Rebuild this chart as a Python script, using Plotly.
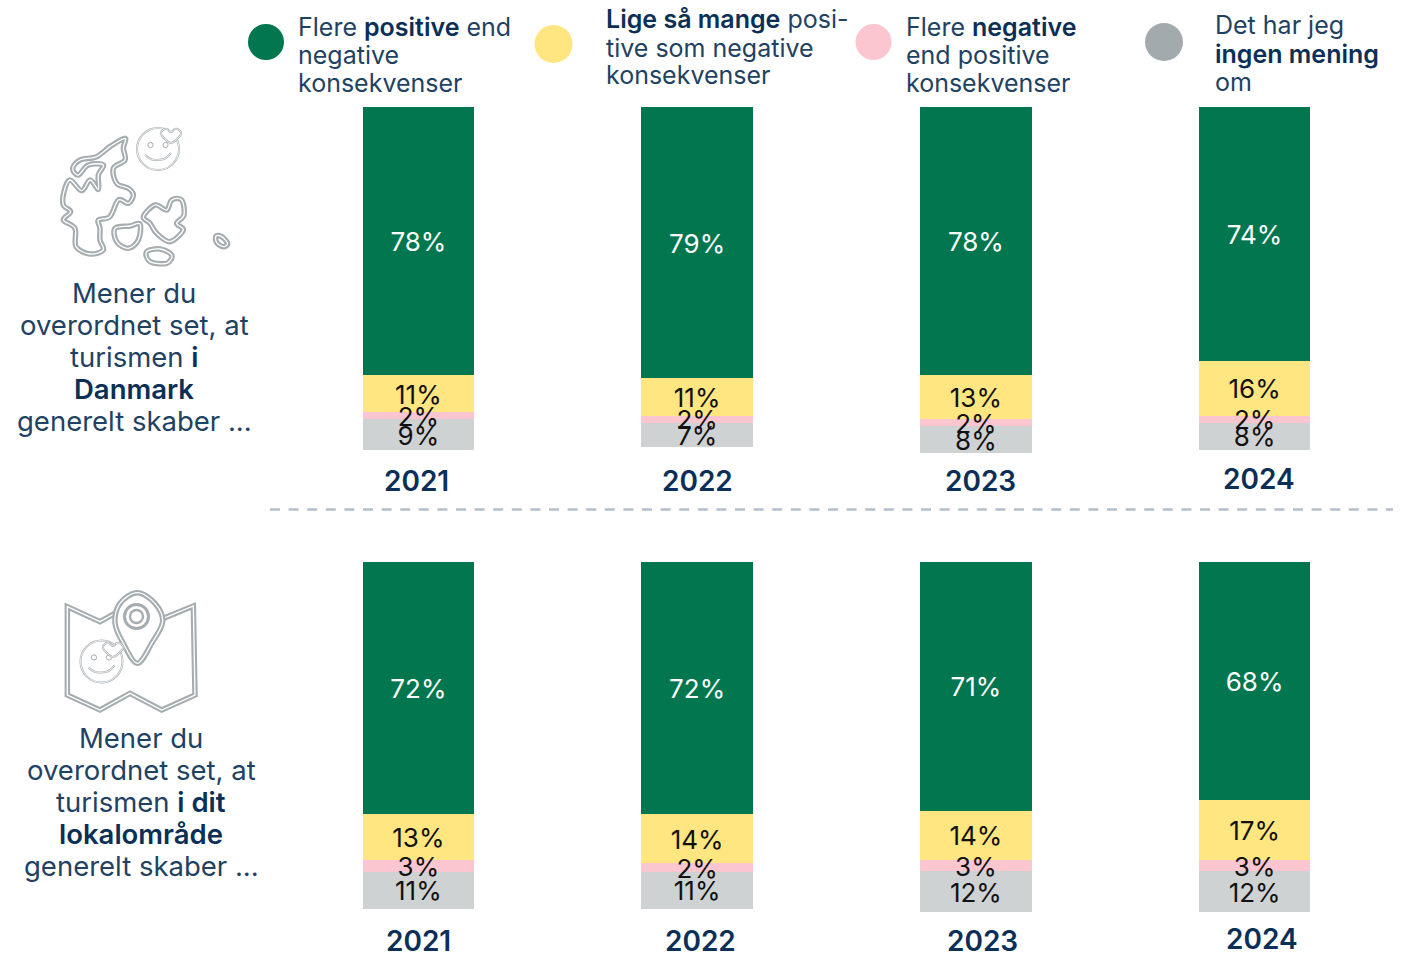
import plotly.graph_objects as go

W, H = 1412, 953
FONT = "Inter"
NAVY = "#0B2F57"
TEXT = "#1F4263"

years = ["2021", "2022", "2023", "2024"]
series_names = ["Flere positive end negative konsekvenser",
                "Lige så mange positive som negative konsekvenser",
                "Flere negative end positive konsekvenser",
                "Det har jeg ingen mening om"]
colors = ["#01764F", "#FFE680", "#FBC6D0", "#CFD2D3"]
legend_colors = ["#01764F", "#FFE680", "#FBC6D0", "#A3AAAE"]
text_colors = ["#FFFFFF", "#111111", "#111111", "#111111"]

dk_positive = [78, 79, 78, 74]
dk_equal = [11, 11, 13, 16]
dk_negative = [2, 2, 2, 2]
dk_none = [9, 7, 8, 8]

local_positive = [72, 72, 71, 68]
local_equal = [13.1, 14, 14, 17]
local_negative = [3.4, 2.5, 3.4, 3.4]
local_none = [10.6, 10.6, 11.7, 11.7]

dk_labels = [["78%", "79%", "78%", "74%"], ["11%", "11%", "13%", "16%"],
             ["2%", "2%", "2%", "2%"], ["9%", "7%", "8%", "8%"]]
local_labels = [["72%", "72%", "71%", "68%"], ["13%", "14%", "14%", "17%"],
                ["3%", "2%", "3%", "3%"], ["11%", "11%", "12%", "12%"]]


def px(x):
    return x / W


def py(y):
    return 1 - y / H


fig = go.Figure()
LABEL_DROP = 1.05  # in axis units: the labels sit a little under each segment's middle
groups = [([dk_positive, dk_equal, dk_negative, dk_none], dk_labels, "x", "y"),
          ([local_positive, local_equal, local_negative, local_none], local_labels, "x2", "y2")]
for vals, labs, xa, ya in groups:
    for i in range(4):
        fig.add_trace(go.Bar(
            x=years, y=vals[i], name=series_names[i], xaxis=xa, yaxis=ya,
            marker=dict(color=colors[i], line=dict(width=0)),
            hoverinfo="skip", showlegend=False))
    # value labels sit above every bar segment, so that they overlap as in the reference
    base = [0, 0, 0, 0]
    for i in range(4):
        mids = [b + v / 2 + LABEL_DROP for b, v in zip(base, vals[i])]
        base = [b + v for b, v in zip(base, vals[i])]
        fig.add_trace(go.Scatter(
            x=years, y=mids, mode="text", text=labs[i], textposition="middle center",
            xaxis=xa, yaxis=ya, cliponaxis=False, hoverinfo="skip", showlegend=False,
            textfont=dict(family=FONT, size=26, color=text_colors[i])))

ann = []


def T(x, y, s, size=25, color=TEXT, anchor="left", weight=None):
    font = dict(family=FONT, size=size, color=color)
    if weight:
        font["weight"] = weight
    ann.append(dict(xref="paper", yref="paper", x=px(x), y=py(y), text=s, showarrow=False,
                    xanchor=anchor, yanchor="middle", align=anchor, font=font))


def B(s):
    return f'<span style="font-weight:600;color:{NAVY}">{s}</span>'


legend_lines = [
    (296, [(27, "Flere " + B("positive") + " end"), (55, "negative"), (83, "konsekvenser")]),
    (604, [(19, B("Lige så mange") + " posi-"), (48, "tive som negative"), (75, "konsekvenser")]),
    (904, [(27, "Flere " + B("negative")), (55, "end positive"), (83, "konsekvenser")]),
    (1213, [(25, "Det har jeg"), (54, B("ingen mening")), (82, "om")]),
]
for x, lines in legend_lines:
    for y, s in lines:
        T(x, y, s, size=25)

q1 = [(293, "Mener du"), (325, "overordnet set, at"), (357, "turismen " + B("i")),
      (389, B("Danmark")), (421, "generelt skaber ...")]
q2 = [(738, "Mener du"), (770, "overordnet set, at"), (802, "turismen " + B("i dit")),
      (834, B("lokalområde")), (866, "generelt skaber ...")]
for y, s in q1:
    T(134, y, s, size=27.5, anchor="center")
for y, s in q2:
    T(141, y, s, size=27.5, anchor="center")

year_pos = [(416, 481), (697, 481), (980, 481), (1259, 479),
            (418, 941), (700, 941), (982, 941), (1262, 939)]
for i, (x, y) in enumerate(year_pos):
    T(x, y, years[i % 4], size=28, color=NAVY, anchor="center", weight=600)

shapes = []


def ell(cx, cy, rx, ry, fill, line=None, w=0):
    shapes.append(dict(type="circle", xref="paper", yref="paper",
                       x0=px(cx - rx), x1=px(cx + rx), y0=py(cy - ry), y1=py(cy + ry),
                       fillcolor=fill, line=dict(color=line or fill, width=w)))


ell(266, 42, 18, 18, legend_colors[0])
ell(553.5, 44, 19, 19, legend_colors[1])
ell(873.5, 42, 18, 18, legend_colors[2])
ell(1164, 42, 19, 19, legend_colors[3])

shapes.append(dict(type="line", xref="paper", yref="paper", x0=px(270), x1=px(1393),
                   y0=py(509.5), y1=py(509.5), line=dict(color="#B4BFCE", width=2.5, dash="10px,8.6px")))


def smooth(points, closed=True):
    n = len(points)
    P = [(px(a), py(b)) for a, b in points]
    d = f"M{P[0][0]},{P[0][1]}"
    rng = range(n if closed else n - 1)
    for i in rng:
        if closed:
            p0, p1, p2, p3 = P[(i - 1) % n], P[i], P[(i + 1) % n], P[(i + 2) % n]
        else:
            p0, p1, p2, p3 = P[max(i - 1, 0)], P[i], P[i + 1], P[min(i + 2, n - 1)]
        c1 = (p1[0] + (p2[0] - p0[0]) / 6, p1[1] + (p2[1] - p0[1]) / 6)
        c2 = (p2[0] - (p3[0] - p1[0]) / 6, p2[1] - (p3[1] - p1[1]) / 6)
        d += f" C{c1[0]},{c1[1]} {c2[0]},{c2[1]} {p2[0]},{p2[1]}"
    return d + (" Z" if closed else "")


def poly(points):
    P = [(px(a), py(b)) for a, b in points]
    return "M" + " L".join(f"{a},{b}" for a, b in P) + " Z"


GR = "#A6ADB1"


def dbl(path, w=5.5, inner=1.3, fill=None):
    shapes.append(dict(type="path", xref="paper", yref="paper", path=path,
                       fillcolor=fill or "rgba(0,0,0,0)", line=dict(color=GR, width=w)))
    shapes.append(dict(type="path", xref="paper", yref="paper", path=path,
                       fillcolor="rgba(0,0,0,0)", line=dict(color="#FFFFFF", width=inner)))


def zoom_pts(pts, ox, oy):
    return [(a / 3 + ox, b / 3 + oy) for a, b in pts]


def smiley(cx, cy, r):
    ell(cx, cy, r, r, "rgba(0,0,0,0)", GR, 2)
    ell(cx, cy, r, r, "rgba(0,0,0,0)", "#FFFFFF", 0.8)
    s = r / 21
    for dx in (-7.5, 7.5):
        ell(cx + dx * s, cy - 4 * s, 2.6 * s, 2.6 * s, "rgba(0,0,0,0)", GR, 1)
    dbl(smooth([(cx - 13 * s, cy + 6 * s), (cx - 6 * s, cy + 10.5 * s), (cx + 6 * s, cy + 10 * s),
                (cx + 13 * s, cy + 4 * s)], closed=False), w=2, inner=0.8)


def heart(cx, cy, s):
    pts = [(cx, cy - 3 * s), (cx + 4 * s, cy - 6 * s), (cx + 8 * s, cy - 5 * s), (cx + 10 * s, cy - 1 * s),
           (cx + 5 * s, cy + 5 * s), (cx, cy + 8 * s), (cx - 5 * s, cy + 5 * s), (cx - 10 * s, cy - 1 * s),
           (cx - 8 * s, cy - 5 * s), (cx - 4 * s, cy - 6 * s)]
    shapes.append(dict(type="path", xref="paper", yref="paper", path=smooth(pts),
                       fillcolor="#FFFFFF", line=dict(color=GR, width=2)))
    shapes.append(dict(type="path", xref="paper", yref="paper", path=smooth(pts),
                       fillcolor="rgba(0,0,0,0)", line=dict(color="#FFFFFF", width=0.8)))


jutland = [(375, 115), (330, 140), (290, 170), (240, 180), (218, 205), (235, 225), (265, 195), (310, 195),
           (295, 225), (295, 268), (270, 240), (245, 272), (210, 240), (192, 275), (190, 315), (212, 335),
           (190, 360), (225, 385), (228, 440), (270, 462), (310, 450), (300, 420), (300, 385), (295, 360),
           (330, 350), (355, 300), (385, 310), (400, 285), (385, 265), (350, 250), (340, 205), (375, 180),
           (370, 145)]
funen = [(345, 385), (390, 378), (420, 372), (415, 420), (385, 445), (350, 425)]
zealand = [(430, 350), (465, 315), (500, 330), (515, 300), (545, 300), (552, 345), (530, 370), (550, 390),
           (510, 425), (470, 400), (450, 370)]
lolland = [(440, 455), (480, 447), (515, 465), (500, 490), (450, 485)]
bornholm = [(648, 408), (665, 410), (683, 430), (670, 440), (650, 428)]
for shape_pts in (jutland, funen, zealand, lolland, bornholm):
    dbl(smooth(zoom_pts(shape_pts, 0, 100)))
smiley(158, 149, 21)
heart(171, 135, 1.0)

map_outline = [(82, 80), (180, 125), (225, 100), (370, 115), (460, 78), (465, 345), (365, 390), (270, 340),
               (180, 390), (82, 345)]
dbl(poly(zoom_pts(map_outline, 40, 580)))
pin = [(292, 250), (250, 190), (225, 130), (240, 70), (292, 38), (345, 70), (368, 125), (335, 190)]
dbl(smooth(zoom_pts(pin, 40, 580)), fill="#FFFFFF")
ell(136.5, 616.5, 12, 12, "rgba(0,0,0,0)", GR, 3)
ell(136.5, 616.5, 6.5, 6.5, "rgba(0,0,0,0)", GR, 2.4)
smiley(101.5, 661.5, 21)
heart(113, 649, 1.0)

fig.update_layout(
    width=W, height=H, margin=dict(l=0, r=0, t=0, b=0), autosize=False,
    barmode="stack", bargap=0.6, paper_bgcolor="#FFFFFF", plot_bgcolor="rgba(0,0,0,0)",
    showlegend=False, annotations=ann, shapes=shapes,
    xaxis=dict(domain=[px(279), px(1394)], visible=False, type="category", range=[-0.5, 3.5], fixedrange=True),
    xaxis2=dict(domain=[px(279), px(1394)], visible=False, type="category", range=[-0.5, 3.5], fixedrange=True),
    yaxis=dict(domain=[py(107 + 3.43 * 110), py(107)], visible=False, range=[110, 0], fixedrange=True),
    yaxis2=dict(domain=[py(562 + 3.5 * 110), py(562)], visible=False, range=[110, 0], fixedrange=True),
)
fig.write_html("out.html", config={"displayModeBar": False},
               post_script="document.body.style.margin='0';document.body.style.overflow='hidden';")
